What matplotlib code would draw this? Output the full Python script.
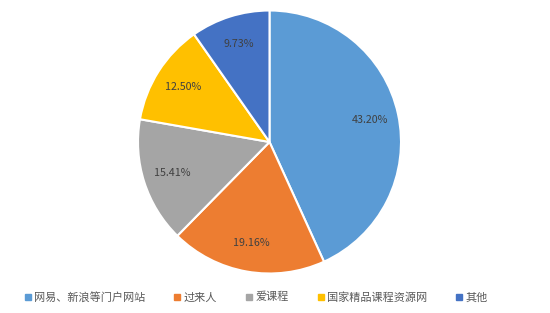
import matplotlib
matplotlib.use("Agg")
import matplotlib.pyplot as plt
from matplotlib.lines import Line2D

plt.rcParams['font.family'] = ['Noto Sans CJK SC', 'DejaVu Sans']

categories = ["网易、新浪等门户网站", "过来人", "爱课程", "国家精品课程资源网", "其他"]
values = [43.20, 19.16, 15.41, 12.50, 9.73]
colors = ["#5B9BD5", "#ED7D31", "#A5A5A5", "#FFC000", "#4472C4"]

W, H = 550, 313
fig = plt.figure(figsize=(W / 100, H / 100), dpi=100)
cx, cy, r = 269.5, 142, 131.5
ax = fig.add_axes([(cx - r) / W, (H - cy - r) / H, 2 * r / W, 2 * r / H])

wedges, texts, autotexts = ax.pie(
    values, colors=colors, startangle=90, counterclock=False,
    autopct=lambda p: f"{p:.2f}%", pctdistance=0.78,
    wedgeprops=dict(edgecolor="white", linewidth=1.5),
    textprops=dict(fontsize=7.7, color="#404040"))
ax.set_xlim(-1, 1)
ax.set_ylim(-1, 1)
ax.set_aspect('auto')
ax.axis('off')

handles = [Line2D([0], [0], marker='s', linestyle='none', markersize=5,
                  markerfacecolor=c, markeredgecolor=c) for c in colors]
fig.legend(handles, categories, loc='center', bbox_to_anchor=(256 / W, 1 - 297 / H),
           ncol=5, frameon=False, fontsize=8, labelcolor="#595959",
           handlelength=0.6, handletextpad=0.25, columnspacing=2.6)

fig.savefig("out.png", dpi=100)
